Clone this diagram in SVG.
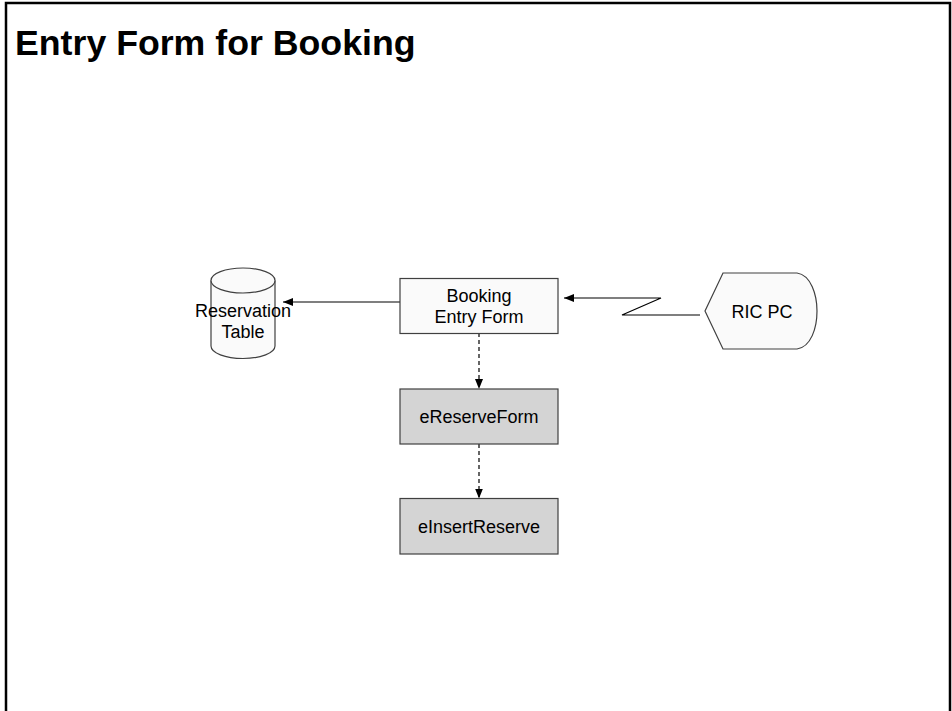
<svg xmlns="http://www.w3.org/2000/svg" width="952" height="711" viewBox="0 0 952 711">
<style>
text{font-family:"Liberation Sans",Arial,sans-serif;fill:#000}
.lbl{font-size:18px;text-anchor:middle}
.box{fill:#fafafa;stroke:#404040;stroke-width:1.2}
.gbox{fill:#d4d4d4;stroke:#404040;stroke-width:1.2}
.conn{fill:none;stroke:#000;stroke-width:1.2}
.dash{stroke-dasharray:4,3}
</style>
<defs>
<marker id="ah" viewBox="0 0 10 8" refX="10" refY="4" markerWidth="10" markerHeight="8" markerUnits="userSpaceOnUse" orient="auto">
<path d="M0,0 L10,4 L0,8 Z" fill="#000"/>
</marker>
</defs>
<rect width="952" height="711" fill="#fff"/>
<path d="M6,711 V3 H950 V711" fill="none" stroke="#000" stroke-width="2.5"/>
<text x="15" y="55" font-size="35.7" font-weight="bold">Entry Form for Booking</text>
<g id="connectors">
<line class="conn" x1="400" y1="302" x2="283" y2="302" marker-end="url(#ah)"/>
<polyline class="conn" points="700,315 622,315 661,298 564,298" marker-end="url(#ah)"/>
<line class="conn dash" x1="479" y1="333" x2="479" y2="389" marker-end="url(#ah)"/>
<line class="conn dash" x1="479" y1="444" x2="479" y2="498.5" marker-end="url(#ah)"/>
</g>
<g id="reservation-table">
<path class="box" d="M211,280.5 V346 A32,12.5 0 0 0 275,346 V280.5"/>
<ellipse class="box" cx="243" cy="280.5" rx="32" ry="12.5"/>
<text class="lbl" x="243" y="317">Reservation</text>
<text class="lbl" x="243" y="338">Table</text>
</g>
<g id="booking-entry-form">
<rect class="box" x="400" y="278.5" width="158" height="55"/>
<text class="lbl" x="479" y="302">Booking</text>
<text class="lbl" x="479" y="323">Entry Form</text>
</g>
<g id="ric-pc">
<path class="box" d="M705,311 L723,273 L797,273 C811,275 817,295 817,311 C817,328 811,347 797,349 L723,349 Z"/>
<text class="lbl" x="762" y="318">RIC PC</text>
</g>
<g id="ereserveform">
<rect class="gbox" x="400" y="389" width="158" height="55"/>
<text class="lbl" x="479" y="423">eReserveForm</text>
</g>
<g id="einsertreserve">
<rect class="gbox" x="400" y="498.5" width="158" height="55.5"/>
<text class="lbl" x="479" y="533">eInsertReserve</text>
</g>
</svg>
